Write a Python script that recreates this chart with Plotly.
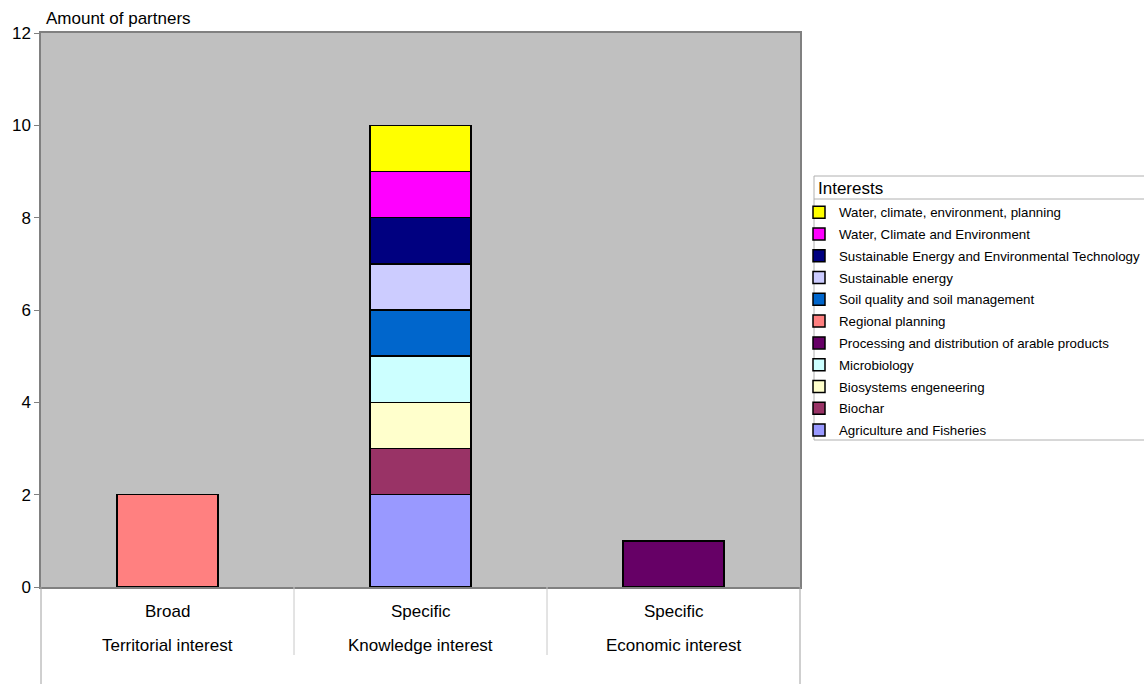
import plotly.graph_objects as go

# ---- data ----
level1 = ["Broad", "Specific", "Specific"]
level2 = ["Territorial interest", "Knowledge interest", "Economic interest"]

series_names = [
    "Agriculture and Fisheries",
    "Biochar",
    "Biosystems engeneering",
    "Microbiology",
    "Processing and distribution of arable products",
    "Regional planning",
    "Soil quality and soil management",
    "Sustainable energy",
    "Sustainable Energy and Environmental Technology",
    "Water, Climate and Environment",
    "Water, climate, environment, planning",
]
agriculture = [None, 2, None]
biochar = [None, 1, None]
biosystems = [None, 1, None]
microbiology = [None, 1, None]
processing = [None, None, 1]
regional = [2, None, None]
soil = [None, 1, None]
sust_energy = [None, 1, None]
seet = [None, 1, None]
water_cae = [None, 1, None]
water_cep = [None, 1, None]
series_values = [agriculture, biochar, biosystems, microbiology, processing,
                 regional, soil, sust_energy, seet, water_cae, water_cep]
series_colors = ["#9999FF", "#993366", "#FFFFCC", "#CCFFFF", "#660066",
                 "#FF8080", "#0066CC", "#CCCCFF", "#000080", "#FF00FF", "#FFFF00"]

FONT = "Liberation Sans, Arial, sans-serif"

fig = go.Figure()
n = len(series_names)
for i, (name, vals, col) in enumerate(zip(series_names, series_values, series_colors)):
    fig.add_trace(go.Bar(
        x=level2, y=vals, name=name, legendgroup=name, legendrank=n - i,
        marker=dict(color=col, line=dict(color="black", width=1.5)),
        width=0.4,
    ))

W, H = 1144, 684
ml, mr, mt, mb = 41, 344, 33, 97
pw, ph = W - ml - mr, H - mt - mb

def px2x(px):
    return (px - ml) / pw

def px2y(py):
    return (H - mb - py) / ph

shapes = []
# legend box
shapes.append(dict(type="rect", xref="paper", yref="paper", x0=px2x(814), x1=px2x(1150),
                   y0=px2y(440), y1=px2y(176), fillcolor="white",
                   line=dict(color="#B0B0B0", width=1), layer="below"))
# legend title separator
shapes.append(dict(type="line", xref="paper", yref="paper", x0=px2x(814), x1=px2x(1150),
                   y0=px2y(199), y1=px2y(199), line=dict(color="#B0B0B0", width=1)))
# separators between categories
for i in range(len(level2) - 1):
    shapes.append(dict(type="line", xref="x", yref="paper", x0=i + 0.5, x1=i + 0.5,
                       y0=0, y1=px2y(655), line=dict(color="#C8C8C8", width=1)))
# outer lines under the plot
for xp in (0, 1):
    shapes.append(dict(type="line", xref="paper", yref="paper", x0=xp, x1=xp,
                       y0=0, y1=px2y(684), line=dict(color="#A0A0A0", width=1)))

annotations = []
for i, (a, b) in enumerate(zip(level1, level2)):
    annotations.append(dict(x=i, xref="x", y=px2y(611), yref="paper", text=a,
                            showarrow=False, font=dict(size=17, color="black", family=FONT),
                            yanchor="middle"))
    annotations.append(dict(x=i, xref="x", y=px2y(645), yref="paper", text=b,
                            showarrow=False, font=dict(size=17, color="black", family=FONT),
                            yanchor="middle"))
annotations.append(dict(x=px2x(44), xref="paper", y=px2y(18), yref="paper",
                        text="Amount of partners", showarrow=False, xanchor="left",
                        yanchor="middle", font=dict(size=17, color="black", family=FONT)))
annotations.append(dict(x=px2x(816), xref="paper", y=px2y(188), yref="paper",
                        text="Interests", showarrow=False, xanchor="left",
                        yanchor="middle", font=dict(size=17, color="black", family=FONT)))

fig.update_layout(
    width=W, height=H,
    margin=dict(l=ml, r=mr, t=mt, b=mb, autoexpand=False),
    barmode="stack",
    plot_bgcolor="#C0C0C0",
    paper_bgcolor="white",
    font=dict(family=FONT, color="black"),
    showlegend=True,
    legend=dict(
        x=px2x(799), y=px2y(197), xanchor="left", yanchor="top",
        traceorder="grouped", tracegroupgap=1.5,
        borderwidth=0, bgcolor="rgba(0,0,0,0)",
        font=dict(size=13.3, color="black", family=FONT),
        itemwidth=30,
    ),
    shapes=shapes,
    annotations=annotations,
)
fig.update_xaxes(
    type="category", showticklabels=False, ticks="",
    showline=True, linecolor="#808080", linewidth=1.5, mirror=True,
    showgrid=False, range=[-0.5, 2.5],
)
fig.update_yaxes(
    range=[0, 12], dtick=2, showgrid=False, zeroline=False,
    showline=True, linecolor="#808080", linewidth=1.5, mirror=True,
    ticks="outside", ticklen=5, tickcolor="#808080",
    tickfont=dict(size=17, color="black", family=FONT),
)

fig.write_html("out.html")
